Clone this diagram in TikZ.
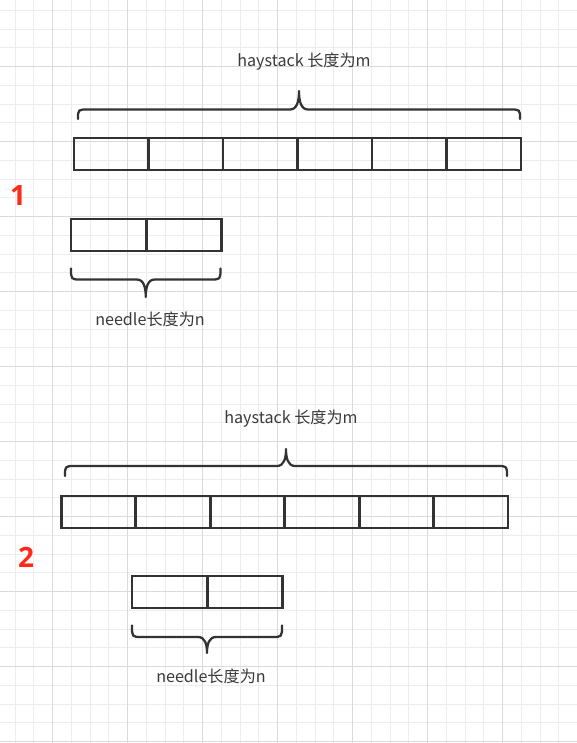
\documentclass[tikz,border=0pt]{standalone}
\usepackage{fontspec}
\setmainfont{Noto Sans CJK SC}
\newfontfamily\digitfont{Open Sans}
\definecolor{inkc}{HTML}{333333}
\definecolor{txtc}{HTML}{3A3A3A}
\definecolor{minorc}{HTML}{EDEDED}
\definecolor{majorc}{HTML}{DADADA}
\definecolor{redc}{HTML}{FF2A1A}
\tikzset{
  minorline/.style={draw=minorc,line width=0.75pt},
  majorline/.style={draw=majorc,line width=0.75pt},
  hcell/.style={draw=inkc,line width=2.15pt,minimum width=55.9pt,minimum height=24pt,inner sep=0pt,outer sep=0pt,anchor=north west},
  ncell/.style={draw=inkc,line width=2.15pt,minimum width=56.4pt,minimum height=24pt,inner sep=0pt,outer sep=0pt,anchor=north west},
  bracestyle/.style={draw=inkc,line width=1.7pt,line cap=round,line join=round},
  label/.style={text=txtc,font=\fontsize{12.1pt}{14pt}\selectfont,inner sep=0pt},
  numlabel/.style={text=redc,font=\digitfont\bfseries\fontsize{21pt}{23pt}\selectfont,inner sep=0pt}
}
\newcommand{\mybrace}[5]{%
  \pgfmathsetmacro\bxc{(#1+#2)/2}%
  \pgfmathsetmacro\bym{#4+0.45*(#5-#4)}%
  \draw[bracestyle] (#1,#3) .. controls (#1,#4) .. ({#1+10},#4) -- ({\bxc-9},#4)
    .. controls ({\bxc-2},#4) and (\bxc,\bym) .. (\bxc,#5)
    .. controls (\bxc,\bym) and ({\bxc+2},#4) .. ({\bxc+9},#4) -- ({#2-10},#4)
    .. controls (#2,#4) .. (#2,#3);}
\begin{document}
\begin{tikzpicture}[x=0.75pt,y=-0.75pt]
\useasboundingbox[fill=white] (0,0) rectangle (577,743);
% grid
\foreach \gx in {15,33.75,...,577} \draw[minorline] (\gx,0) -- (\gx,743);
\foreach \gy in {10.45,29.2,...,743} \draw[minorline] (0,\gy) -- (577,\gy);
\foreach \gx in {52.5,127.5,...,577} \draw[majorline] (\gx,0) -- (\gx,743);
\foreach \gy in {66.7,141.7,...,743} \draw[majorline] (0,\gy) -- (577,\gy);

% section 1
\node[label] (t1) at (304,62) {haystack 长度为m};
\mybrace{78}{520}{119}{109.5}{91}
\foreach \i in {0,...,5} \node[hcell] (ha\i) at ({74+74.5*\i},138) {};
\node[numlabel] (n1) at (18,196) {1};
\foreach \i in {0,1} \node[ncell] (na\i) at ({71+75.2*\i},219) {};
\mybrace{71}{220.5}{268.5}{279.5}{297}
\node[label] (t2) at (150,319) {needle长度为n};

% section 2
\node[label] (t3) at (291,419) {haystack 长度为m};
\mybrace{65}{507}{476}{466}{449}
\foreach \i in {0,...,5} \node[hcell] (hb\i) at ({61.2+74.45*\i},496) {};
\node[numlabel] (n2) at (26,557) {2};
\foreach \i in {0,1} \node[ncell] (nb\i) at ({132+75.3*\i},576) {};
\mybrace{132}{282}{625.5}{637}{653}
\node[label] (t4) at (211,676) {needle长度为n};
\end{tikzpicture}
\end{document}
